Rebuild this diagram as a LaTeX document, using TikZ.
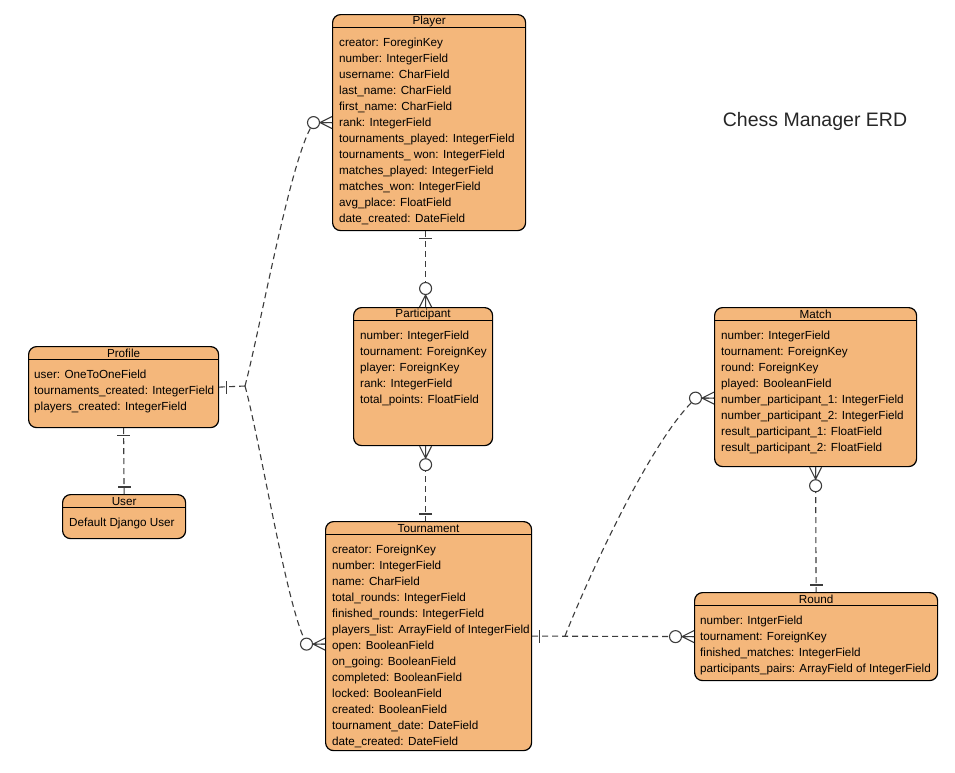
\documentclass[tikz,border=0pt]{standalone}
\usepackage{fontspec}
\setmainfont{Liberation Sans}
\definecolor{entityfill}{RGB}{244, 183, 123}
\definecolor{relgray}{RGB}{60, 60, 60}
\tikzset{
  entity/.style={draw=black, fill=entityfill, line width=1.2pt, rounded corners=8, anchor=north west, inner sep=0},
  etitle/.style={anchor=center, inner sep=0, font=\fontsize{11.7}{14}\selectfont},
  fields/.style={anchor=base west, inner sep=0, font=\fontsize{11.7}{16}\selectfont},
  rel/.style={draw=relgray, line width=1.1pt, dash pattern=on 6pt off 4pt},
  relmark/.style={draw=relgray, line width=1.1pt, solid},
  zeromany/.pic={
    \draw[relmark] (-12,0) -- (0,-6) (-12,0) -- (0,0) (-12,0) -- (0,6);
    \draw[relmark, fill=white] (-18.5,0) circle (6);
  },
  onebar/.pic={
    \draw[relmark] (-7,-6.5) -- (-7,6.5);
  }
}
\begin{document}
\begin{tikzpicture}[x=1pt, y=-1pt]
  \useasboundingbox[fill=white] (0,0) rectangle (955,772);

  % entities
  \node[entity, minimum width=193, minimum height=216] (player) at (332,14) {};
  \node[entity, minimum width=139, minimum height=138] (participant) at (353,307) {};
  \node[entity, minimum width=190, minimum height=81] (profile) at (28,346) {};
  \node[entity, minimum width=123, minimum height=44] (user) at (62,494) {};
  \node[entity, minimum width=206, minimum height=229] (tournament) at (325,521) {};
  \node[entity, minimum width=202, minimum height=159] (match) at (714,307) {};
  \node[entity, minimum width=243, minimum height=88] (round) at (694,592) {};

  % title bands
  \foreach \e/\t in {player/Player, participant/Participant, profile/Profile, user/User,
                     tournament/Tournament, match/Match, round/Round} {
    \draw[line width=1pt] ([yshift=-13]\e.north west) -- ([yshift=-13]\e.north east);
    \node[etitle] (\e-title) at ([yshift=-7.2]\e.north) {\t};
  }

  % fields
  \node[fields] (player-fields) at ([xshift=7,yshift=-32.3]player.north west) {\begin{tabular}[t]{@{}l@{}}
    creator: ForeginKey\\ number: IntegerField\\ username: CharField\\ last\_name: CharField\\
    first\_name: CharField\\ rank: IntegerField\\ tournaments\_played: IntegerField\\
    tournaments\_ won: IntegerField\\ matches\_played: IntegerField\\ matches\_won: IntegerField\\
    avg\_place: FloatField\\ date\_created: DateField\end{tabular}};
  \node[fields] (participant-fields) at ([xshift=7,yshift=-32.3]participant.north west) {\begin{tabular}[t]{@{}l@{}}
    number: IntegerField\\ tournament: ForeignKey\\ player: ForeignKey\\ rank: IntegerField\\
    total\_points: FloatField\end{tabular}};
  \node[fields] (profile-fields) at ([xshift=6,yshift=-32.3]profile.north west) {\begin{tabular}[t]{@{}l@{}}
    user: OneToOneField\\ tournaments\_created: IntegerField\\ players\_created: IntegerField\end{tabular}};
  \node[fields] (user-fields) at ([xshift=7,yshift=-32.3]user.north west) {Default Django User};
  \node[fields] (tournament-fields) at ([xshift=7,yshift=-32.3]tournament.north west) {\begin{tabular}[t]{@{}l@{}}
    creator: ForeignKey\\ number: IntegerField\\ name: CharField\\ total\_rounds: IntegerField\\
    finished\_rounds: IntegerField\\ players\_list: ArrayField of IntegerField\\ open: BooleanField\\
    on\_going: BooleanField\\ completed: BooleanField\\ locked: BooleanField\\ created: BooleanField\\
    tournament\_date: DateField\\ date\_created: DateField\end{tabular}};
  \node[fields] (match-fields) at ([xshift=7,yshift=-32.3]match.north west) {\begin{tabular}[t]{@{}l@{}}
    number: IntegerField\\ tournament: ForeignKey\\ round: ForeignKey\\ played: BooleanField\\
    number\_participant\_1: IntegerField\\ number\_participant\_2: IntegerField\\
    result\_participant\_1: FloatField\\ result\_participant\_2: FloatField\end{tabular}};
  \node[fields] (round-fields) at ([xshift=6,yshift=-32.3]round.north west) {\begin{tabular}[t]{@{}l@{}}
    number: IntgerField\\ tournament: ForeignKey\\ finished\_matches: IntegerField\\
    participants\_pairs: ArrayField of IntegerField\end{tabular}};

  \node[font=\fontsize{19.5}{22}\selectfont, text=black!85] (erd-title) at (815,121) {Chess Manager ERD};

  % relations
  \coordinate (pfork) at (245,386);
  \coordinate (tfork) at (565,636);
  \draw[rel] (profile.east) -- (pfork);
  \draw[rel] (pfork) .. controls (260,330) and (292,150) .. ([xshift=-18]player.west) -- (player.west);
  \draw[rel] (pfork) .. controls (260,440) and (288,615) .. ([xshift=-18,yshift=-8]tournament.west) -- ([yshift=-8]tournament.west);
  \draw[rel] (profile.south) -- (user.north);
  \draw[rel] ([xshift=-3.5]player.south) -- ([xshift=2.5]participant.north);
  \draw[rel] ([xshift=2.5]participant.south) -- ([xshift=-3]tournament.north);
  \draw[rel] (tournament.east) -- (round.west);
  \draw[rel] (tfork) .. controls (585,585) and (650,440) .. ([xshift=-18,yshift=-11]match.west) -- ([yshift=-11]match.west);
  \draw[rel] (match.south) -- (round.north);

  % end marks
  \pic at (player.west) {zeromany};
  \pic at ([yshift=-8]tournament.west) {zeromany};
  \pic at ([yshift=-11]match.west) {zeromany};
  \pic at (round.west) {zeromany};
  \pic[rotate=-90] at ([xshift=2.5]participant.north) {zeromany};
  \pic[rotate=90] at ([xshift=2.5]participant.south) {zeromany};
  \pic[rotate=90] at (match.south) {zeromany};
  \pic[rotate=180] at (profile.east) {onebar};
  \pic[rotate=90] at (profile.south) {onebar};
  \pic[rotate=-90] at (user.north) {onebar};
  \pic[rotate=90] at ([xshift=-3.5]player.south) {onebar};
  \pic[rotate=-90] at ([xshift=-3]tournament.north) {onebar};
  \pic[rotate=180] at (tournament.east) {onebar};
  \pic[rotate=-90] at (round.north) {onebar};
\end{tikzpicture}
\end{document}
